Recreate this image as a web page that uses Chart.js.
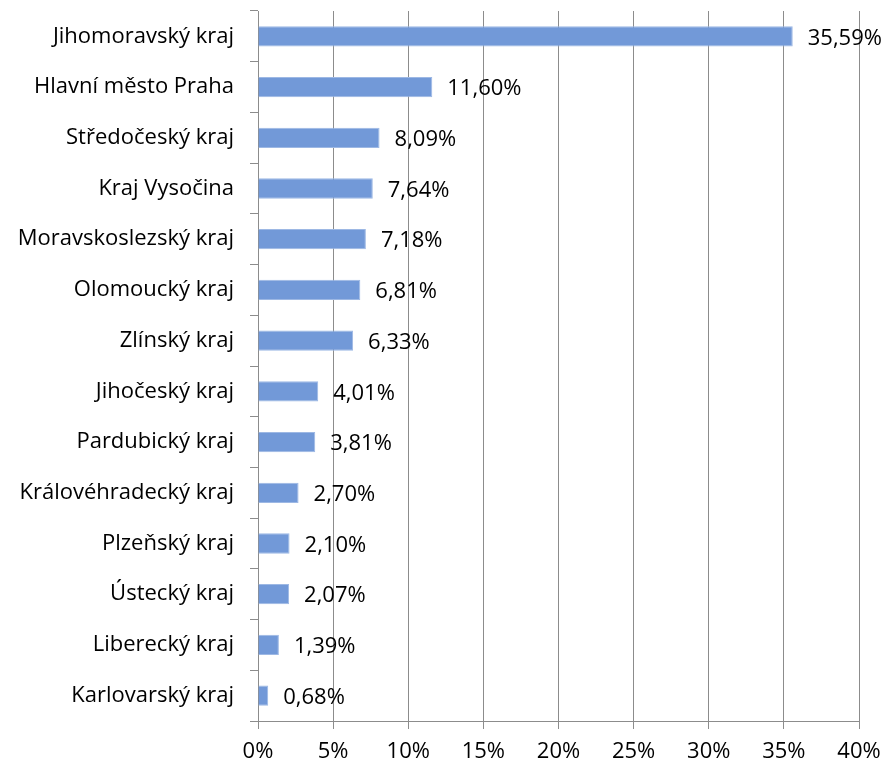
<!DOCTYPE html>
<html>
<head>
<meta charset="utf-8">
<script src="https://cdn.jsdelivr.net/npm/chart.js@4/dist/chart.umd.min.js"></script>
<style>
  html, body { margin: 0; padding: 0; background: #fff; }
  #wrap { width: 884px; height: 766px; }
</style>
</head>
<body>
<div id="wrap"><canvas id="myChart" width="884" height="766"></canvas></div>
<script>
// Data
const regions = [
  'Jihomoravský kraj', 'Hlavní město Praha', 'Středočeský kraj', 'Kraj Vysočina',
  'Moravskoslezský kraj', 'Olomoucký kraj', 'Zlínský kraj', 'Jihočeský kraj',
  'Pardubický kraj', 'Královéhradecký kraj', 'Plzeňský kraj', 'Ústecký kraj',
  'Liberecký kraj', 'Karlovarský kraj'
];
const shares = [35.59, 11.60, 8.09, 7.64, 7.18, 6.81, 6.33, 4.01, 3.81, 2.70, 2.10, 2.07, 1.39, 0.68];
const xTicks = [0, 5, 10, 15, 20, 25, 30, 35, 40];

const fontFamily = '"Open Sans", "Noto Sans", sans-serif';
const fontSize = 22;

function formatPct(v) {
  return v.toFixed(2).replace('.', ',') + '%';
}

// draws the value next to each bar
const valueLabels = {
  id: 'valueLabels',
  afterDatasetsDraw(chart) {
    const ctx = chart.ctx;
    const meta = chart.getDatasetMeta(0);
    ctx.save();
    ctx.font = fontSize + 'px ' + fontFamily;
    ctx.fillStyle = '#000';
    ctx.textAlign = 'left';
    ctx.textBaseline = 'middle';
    meta.data.forEach((bar, i) => {
      ctx.fillText(formatPct(shares[i]), bar.x + 15, bar.y + 2);
    });
    ctx.restore();
  }
};

let chart = new Chart(document.getElementById('myChart').getContext('2d'), {
  type: 'bar',
  data: {
    labels: regions,
    datasets: [
      {
        data: shares,
        backgroundColor: '#7299D8',
        borderColor: '#9DB8E4',
        borderWidth: 1,
        categoryPercentage: 0.4,
        barPercentage: 1
      }
    ]
  },
  options: {
    indexAxis: 'y',
    responsive: false,
    animation: false,
    layout: { padding: { top: 11, right: 25, left: 0, bottom: 0 } },
    plugins: {
      legend: { display: false },
      tooltip: { enabled: false }
    },
    scales: {
      x: {
        min: 0,
        max: 40,
        afterBuildTicks(scale) {
          scale.ticks = xTicks.map(v => ({ value: v }));
        },
        afterFit(scale) {
          scale.height = 45;
          scale.paddingLeft = 0;
          scale.paddingRight = 0;
        },
        ticks: {
          color: '#000',
          font: { family: fontFamily, size: fontSize },
          padding: 10,
          maxRotation: 0,
          callback: v => v + '%'
        },
        grid: {
          color: '#8c8c8c',
          lineWidth: 1,
          tickLength: 8
        },
        border: { display: true, color: '#8c8c8c' }
      },
      y: {
        afterFit(scale) {
          scale.width = 258;
          scale.paddingTop = 0;
          scale.paddingBottom = 0;
        },
        ticks: {
          color: '#000',
          font: { family: fontFamily, size: fontSize },
          padding: 16
        },
        grid: {
          drawOnChartArea: false,
          color: '#8c8c8c',
          tickLength: 8,
          offset: true
        },
        border: { display: true, color: '#8c8c8c' }
      }
    }
  },
  plugins: [valueLabels]
});
</script>
</body>
</html>
